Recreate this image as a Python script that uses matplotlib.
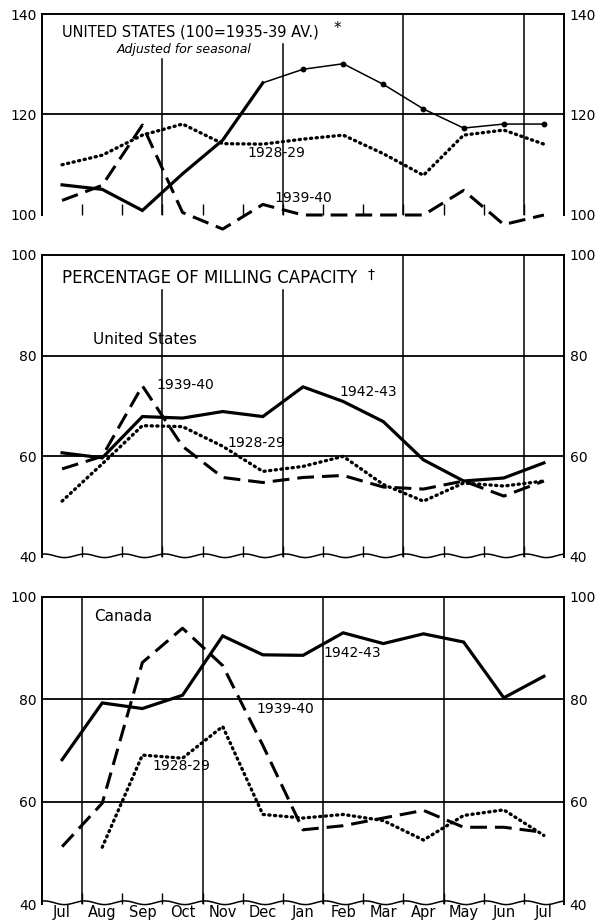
import numpy as np
import matplotlib
matplotlib.use("Agg")
import matplotlib.pyplot as plt

# ---------------- data ----------------
months = ['Jul', 'Aug', 'Sep', 'Oct', 'Nov', 'Dec', 'Jan', 'Feb', 'Mar', 'Apr', 'May', 'Jun', 'Jul']

# Panel 1: United States index (100 = 1935-39 av.), adjusted for seasonal
us_index_4243 = [106.0, 105.1, 100.9, 108.2, 114.9, 126.3, 129.0, 130.1, 126.0, 121.1, 117.3, 118.1, 118.1]
us_index_3940 = [102.9, 105.9, 117.9, 100.5, 97.2, 102.1, 100.0, 100.0, 100.0, 100.0, 104.9, 98.1, 100.0]
us_index_2829 = [110.0, 111.9, 115.9, 118.1, 114.2, 114.1, 115.1, 115.9, 112.2, 107.9, 115.9, 116.9, 114.1]

# Panel 2: United States, percentage of milling capacity
us_cap_4243 = [60.7, 59.7, 67.9, 67.6, 68.9, 67.9, 73.8, 70.9, 66.9, 59.3, 55.1, 55.7, 58.7]
us_cap_3940 = [57.5, 60.0, 74.0, 62.0, 55.8, 54.8, 55.8, 56.2, 53.9, 53.5, 55.1, 52.1, 55.1]
us_cap_2829 = [51.1, 58.5, 66.1, 65.9, 62.0, 57.0, 58.0, 60.0, 54.4, 51.1, 54.7, 54.1, 55.1]

# Panel 3: Canada, percentage of milling capacity
ca_cap_4243 = [68.2, 79.3, 78.2, 80.8, 92.4, 88.7, 88.6, 93.0, 90.9, 92.8, 91.2, 80.3, 84.5]
ca_cap_3940 = [51.2, 59.7, 87.2, 93.9, 86.6, 71.0, 54.5, 55.3, 56.8, 58.3, 55.0, 55.0, 54.0]
ca_cap_2829 = [np.nan, 51.1, 69.1, 68.5, 74.7, 57.5, 56.8, 57.5, 56.3, 52.5, 57.3, 58.4, 53.4]

plt.rcParams['font.family'] = ['DejaVu Sans']

x = np.arange(len(months))
W, H = 599, 921
fig = plt.figure(figsize=(W / 100, H / 100), dpi=100)

def rect(top_px, bot_px):
    left, right = 42, 564
    return [left / W, (H - bot_px) / H, (right - left) / W, (bot_px - top_px) / H]

ax1 = fig.add_axes(rect(14, 215))
ax2 = fig.add_axes(rect(255, 557))
ax3 = fig.add_axes(rect(597, 904))

SOLID = dict(color='black', lw=2.3, solid_joinstyle='miter', zorder=5)
DASH = dict(color='black', lw=2.2, linestyle=(0, (5.5, 2.6)), zorder=5)
DOT = dict(color='black', lw=2.4, linestyle=(0, (0.35, 1.35)), dash_capstyle='round', zorder=5)

LBL = 10
TTL = 11

def base(ax, ylo, yhi, yticks, hlines, vlines, wavy=True):
    ax.set_xlim(-0.5, 12.5)
    ax.set_ylim(ylo, yhi)
    for s in ['top', 'left', 'right']:
        ax.spines[s].set_linewidth(1.4)
    ax.spines['bottom'].set_visible(False)
    ax.set_yticks(yticks)
    ax.set_yticklabels([str(t) for t in yticks])
    ax.tick_params(axis='y', left=True, right=True, labelleft=True, labelright=True,
                   length=0, pad=4, labelsize=10)
    ax.set_xticks(np.arange(0.5, 12.0, 1.0))
    ax.set_xticklabels([])
    ax.tick_params(axis='x', which='major', direction='in', length=8, width=1.0,
                   bottom=True, top=False)
    for h in hlines:
        ax.axhline(h, color='black', lw=1.3, zorder=1)
    for v, ymax in vlines:
        ax.axvline(v, ymin=0, ymax=ymax, color='black', lw=1.1, zorder=1)
    if wavy:
        t = np.linspace(0, 1, 600)
        ax.plot(t, 0.006 * np.sin(2 * np.pi * 13 * t + 1.2) + 0.004, color='black', lw=1.1,
                transform=ax.transAxes, clip_on=False, zorder=6)

# ---------- panel 1 ----------
base(ax1, 100, 140, [100, 120, 140], [120],
     [(2.5, (131.0 - 100) / 40), (5.5, (134.0 - 100) / 40), (8.5, 1), (11.5, 1)], wavy=False)
ax1.plot(x[:6], us_index_4243[:6], clip_on=False, **SOLID)
ax1.plot(x[5:], us_index_4243[5:], color='black', lw=1.1, marker='o', ms=3.2,
         markevery=list(range(1, 8)), zorder=5, clip_on=False)
ax1.plot(x, us_index_3940, clip_on=False, **DASH)
ax1.plot(x, us_index_2829, clip_on=False, **DOT)
ax1.text(0.0, 136.5, 'UNITED STATES (100=1935-39 AV.)', fontsize=10.5, ha='left', va='center', zorder=7)
ax1.text(6.75, 137.2, '*', fontsize=11, ha='left', va='center', zorder=7)
ax1.text(1.37, 133.0, 'Adjusted for seasonal', fontsize=9, style='italic', ha='left',
         va='center', zorder=7, bbox=dict(fc='white', ec='none', pad=1))
ax1.text(5.33, 112.4, '1928-29', fontsize=LBL, ha='center', va='center', zorder=7)
ax1.text(6.0, 103.4, '1939-40', fontsize=LBL, ha='center', va='center', zorder=7)

# ---------- panel 2 ----------
base(ax2, 40, 100, [40, 60, 80, 100], [80, 60],
     [(2.5, (93.0 - 40) / 60), (5.5, (93.0 - 40) / 60), (8.5, 1), (11.5, 1)])
ax2.plot(x, us_cap_4243, **SOLID)
ax2.plot(x, us_cap_3940, **DASH)
ax2.plot(x, us_cap_2829, **DOT)
ax2.text(0.0, 95.4, 'PERCENTAGE OF MILLING CAPACITY', fontsize=12, ha='left', va='center', zorder=7)
ax2.text(7.6, 96.1, '\u2020', fontsize=10, ha='left', va='center', zorder=7)
ax2.text(0.76, 83.2, 'United States', fontsize=TTL, ha='left', va='center', zorder=7)
ax2.text(3.06, 74.2, '1939-40', fontsize=LBL, ha='center', va='center', zorder=7)
ax2.text(7.63, 72.8, '1942-43', fontsize=LBL, ha='center', va='center', zorder=7)
ax2.text(4.83, 62.6, '1928-29', fontsize=LBL, ha='center', va='center', zorder=7)

# ---------- panel 3 ----------
base(ax3, 40, 100, [40, 60, 80, 100], [80, 60],
     [(0.5, 1), (3.5, 1), (6.5, 1), (9.5, 1)])
ax3.plot(x, ca_cap_4243, **SOLID)
ax3.plot(x, ca_cap_3940, **DASH)
ax3.plot(x, ca_cap_2829, **DOT)
ax3.text(0.8, 96.1, 'Canada', fontsize=TTL, ha='left', va='center', zorder=7)
ax3.text(7.23, 89.0, '1942-43', fontsize=LBL, ha='center', va='center', zorder=7)
ax3.text(5.55, 78.2, '1939-40', fontsize=LBL, ha='center', va='center', zorder=7)
ax3.text(2.98, 67.0, '1928-29', fontsize=LBL, ha='center', va='center', zorder=7)
ax3.set_xticks(x, minor=True)
ax3.set_xticklabels(months, minor=True)
ax3.tick_params(axis='x', which='minor', length=0, pad=1, labelsize=10.5)

fig.savefig('out.png', dpi=100)
